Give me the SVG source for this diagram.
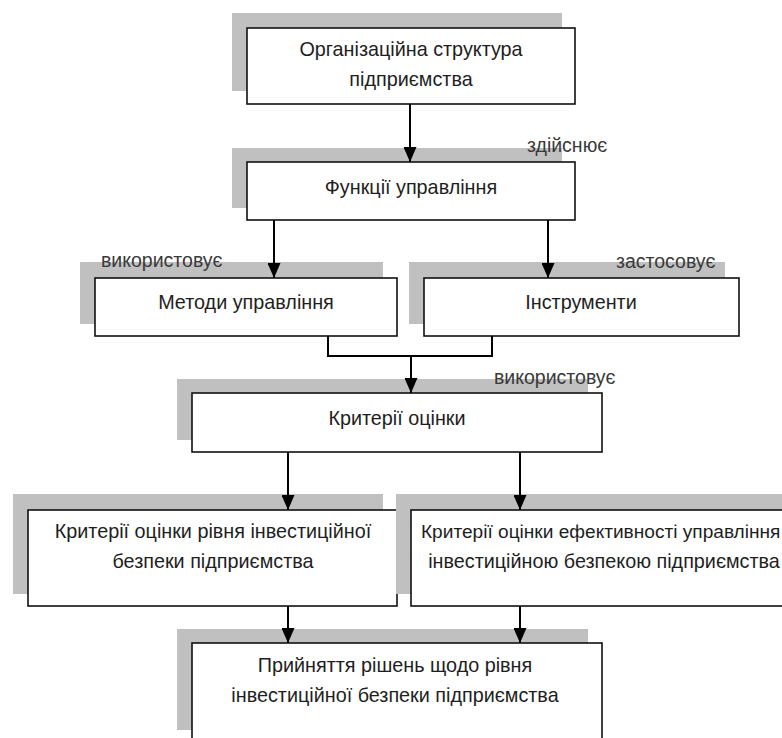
<svg xmlns="http://www.w3.org/2000/svg" width="782" height="738" viewBox="0 0 782 738">
<style>
.sh{fill:#c0c0c0;stroke:none}
.bx{fill:#fff;stroke:#111;stroke-width:1.6}
.t{font-family:"Liberation Sans",Arial,sans-serif;font-size:19.8px;fill:#1e1e1e;text-anchor:middle}
.lb{font-family:"Liberation Sans",Arial,sans-serif;font-size:19.5px;fill:#3a3a3a}
.ln{fill:none;stroke:#000;stroke-width:2}
</style>
<defs>
<marker id="ah" viewBox="0 0 15 13" refX="15" refY="6.5" markerWidth="15" markerHeight="13" markerUnits="userSpaceOnUse" orient="auto">
<path d="M0,0 L15,6.5 L0,13 Z" fill="#000"/>
</marker>
</defs>
<rect width="782" height="738" fill="#fff"/>
<g id="node-org">
<rect class="sh" x="232" y="13" width="330" height="78"/>
<rect class="bx" x="247" y="28" width="328" height="76"/>
<text class="t" x="411" y="56">Організаційна структура</text>
<text class="t" x="411" y="86">підприємства</text>
</g>
<g id="node-func">
<rect class="sh" x="232" y="148" width="330" height="60"/>
<rect class="bx" x="247" y="162" width="328" height="58"/>
<text class="t" x="411" y="194">Функції управління</text>
</g>
<g id="node-methods">
<rect class="sh" x="80" y="262" width="303" height="62"/>
<rect class="bx" x="95" y="278" width="302" height="58"/>
<text class="t" x="246" y="309">Методи управління</text>
</g>
<g id="node-tools">
<rect class="sh" x="409" y="262" width="316" height="62"/>
<rect class="bx" x="424" y="278" width="315" height="58"/>
<text class="t" x="581" y="309">Інструменти</text>
</g>
<g id="node-criteria">
<rect class="sh" x="177" y="379" width="411" height="61"/>
<rect class="bx" x="192" y="393" width="410" height="59"/>
<text class="t" x="397" y="425">Критерії оцінки</text>
</g>
<g id="node-level">
<rect class="sh" x="13" y="494" width="370" height="100"/>
<rect class="bx" x="28" y="510" width="369" height="96"/>
<text class="t" x="213" y="538">Критерії оцінки рівня інвестиційної</text>
<text class="t" x="213" y="568">безпеки підприємства</text>
</g>
<g id="node-efficiency">
<rect class="sh" x="396" y="494" width="400" height="100"/>
<rect class="bx" x="411" y="510" width="390" height="96"/>
<text class="t" x="421" y="538" style="text-anchor:start;font-size:19.1px">Критерії оцінки ефективності управління</text>
<text class="t" x="604" y="568">інвестиційною безпекою підприємства</text>
</g>
<g id="node-decision">
<rect class="sh" x="177" y="629" width="411" height="101"/>
<rect class="bx" x="192" y="643" width="410" height="110"/>
<text class="t" x="395" y="672">Прийняття рішень щодо рівня</text>
<text class="t" x="395" y="702">інвестиційної безпеки підприємства</text>
</g>
<g id="connectors">
<line class="ln" x1="410" y1="104" x2="410" y2="162" marker-end="url(#ah)"/>
<line class="ln" x1="274" y1="220" x2="274" y2="278" marker-end="url(#ah)"/>
<line class="ln" x1="548" y1="220" x2="548" y2="278" marker-end="url(#ah)"/>
<path class="ln" d="M328,336 V356 H492 V336"/>
<line class="ln" x1="411" y1="356" x2="411" y2="393" marker-end="url(#ah)"/>
<line class="ln" x1="288" y1="452" x2="288" y2="510" marker-end="url(#ah)"/>
<line class="ln" x1="520" y1="452" x2="520" y2="510" marker-end="url(#ah)"/>
<line class="ln" x1="288" y1="606" x2="288" y2="643" marker-end="url(#ah)"/>
<line class="ln" x1="520" y1="606" x2="520" y2="643" marker-end="url(#ah)"/>
</g>
<g id="labels">
<text class="lb" x="527" y="152">здійснює</text>
<text class="lb" x="101" y="267">використовує</text>
<text class="lb" x="616" y="268">застосовує</text>
<text class="lb" x="494" y="384">використовує</text>
</g>
</svg>
